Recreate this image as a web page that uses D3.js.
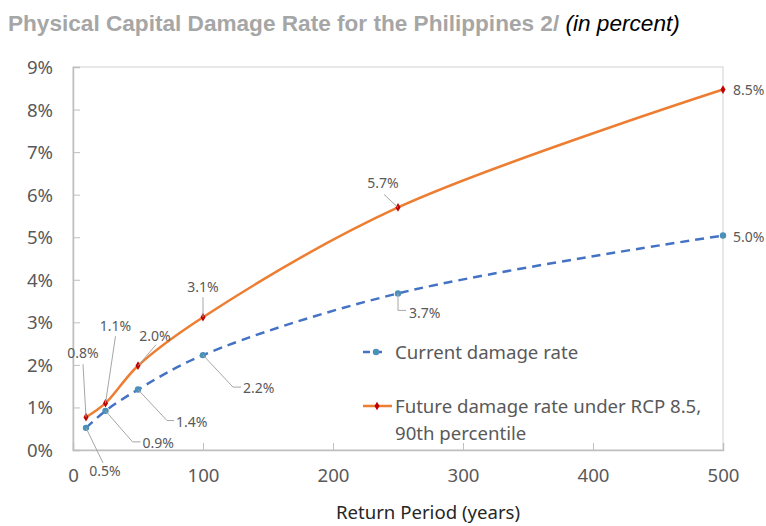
<!DOCTYPE html>
<html><head><meta charset="utf-8">
<script src="https://cdn.jsdelivr.net/npm/d3@7"></script>
<style>body{margin:0;background:#fff}svg{display:block}</style>
</head><body>
<svg id="c" width="766" height="526"></svg>
<script>
const returnPeriods = [10, 25, 50, 100, 250, 500];
const currentRate = [0.52, 0.92, 1.42, 2.23, 3.68, 5.04];
const futureRate = [0.77, 1.10, 1.98, 3.12, 5.70, 8.47];
const currentLabels = ["0.5%", "0.9%", "1.4%", "2.2%", "3.7%", "5.0%"];
const futureLabels = ["0.8%", "1.1%", "2.0%", "3.1%", "5.7%", "8.5%"];
const xTicks = [0, 100, 200, 300, 400, 500];
const yTicks = [0, 1, 2, 3, 4, 5, 6, 7, 8, 9];
const seriesNames = ["Current damage rate", "Future damage rate under RCP 8.5,", "90th percentile"];
const titleMain = "Physical Capital Damage Rate for the Philippines 2/ ";
const titleUnit = "(in percent)";
const xTitle = "Return Period (years)";

// label layout: text offset, anchor, leader points (relative to data point)
const futureLayout = [
  {t:[-3,-64],a:"middle",l:[[-3,-53]]},
  {t:[10,-77],a:"middle",l:[[10,-67]]},
  {t:[17,-30],a:"middle",l:[[18,-21]]},
  {t:[0,-30],a:"middle",l:[[0,-20]]},
  {t:[-15,-24],a:"middle",l:[[-14,-13]]},
  {t:[10,1],a:"start",l:[]}
];
const currentLayout = [
  {t:[19,43],a:"middle",l:[[17,35]]},
  {t:[37,32],a:"start",l:[[27,31],[35,31]]},
  {t:[38,33],a:"start",l:[[29,31],[36,31]]},
  {t:[40,33],a:"start",l:[[30,32],[38,32]]},
  {t:[11,20],a:"start",l:[[0,17],[8,17]]},
  {t:[10,2],a:"start",l:[]}
];

const svg = d3.select("#c");
const L = 73, R = 723, T = 67, B = 450;
const x = d3.scaleLinear().domain([0, 500]).range([L, R]);
const y = d3.scaleLinear().domain([0, 9]).range([B, T]);
const font = "'Noto Sans', 'Open Sans', sans-serif";
const grey = "#595959";

// title
const tt = svg.append("text").attr("x", 8).attr("y", 31)
  .style("font-family", "'Liberation Sans', Arial, sans-serif").style("font-size", "22.6px");
tt.append("tspan").text(titleMain).attr("fill", "#a6a6a6").attr("font-weight", "bold");
tt.append("tspan").text(titleUnit).attr("fill", "#000").attr("font-style", "italic");

// frame
svg.append("rect").attr("x", L).attr("y", T).attr("width", R - L).attr("height", B - T)
  .attr("fill", "none").attr("stroke", "#d0d0d0").attr("stroke-width", 1);

// axes
const yAxis = d3.axisLeft(y).tickValues(yTicks).tickSize(-7).tickPadding(20).tickFormat(d => d + "%");
const gy = svg.append("g").attr("transform", `translate(${L},0)`).call(yAxis);
const xAxis = d3.axisBottom(x).tickValues(xTicks).tickSize(-7).tickPadding(19).tickFormat(d3.format("d"));
const gx = svg.append("g").attr("transform", `translate(0,${B})`).call(xAxis);
[gx, gy].forEach(g => {
  g.select(".domain").attr("stroke", "#bfbfbf").attr("stroke-width", 1.5);
  g.selectAll(".tick line").attr("stroke", "#bfbfbf").attr("stroke-width", 1);
  g.selectAll(".tick text").attr("fill", grey).style("font-family", font).style("font-size", "18.6px");
});
gy.selectAll(".tick text").attr("dy", "0.35em");
gx.selectAll(".tick text").attr("dy", "0.71em");
gx.selectAll(".tick").filter(d => d === 0 || d === 500).select("line").remove();
gy.selectAll(".tick").filter(d => d === 0).select("line").remove();

svg.append("text").attr("x", 428).attr("y", 519).attr("text-anchor", "middle")
  .attr("fill", "#262626").style("font-family", font).style("font-size", "18.6px").text(xTitle);

const line = d3.line().x(d => x(d[0])).y(d => y(d[1])).curve(d3.curveCatmullRom.alpha(0.5));
const cur = returnPeriods.map((r, i) => [r, currentRate[i]]);
const fut = returnPeriods.map((r, i) => [r, futureRate[i]]);

svg.append("path").attr("d", line(cur)).attr("fill", "none").attr("stroke", "#4472C4")
  .attr("stroke-width", 2.5).attr("stroke-dasharray", "9,6");
svg.append("path").attr("d", line(fut)).attr("fill", "none").attr("stroke", "#ED7D31")
  .attr("stroke-width", 2.5);

const diamond = d3.symbol().type(d3.symbolDiamond).size(22);
svg.selectAll(".cm").data(cur).join("circle").attr("cx", d => x(d[0])).attr("cy", d => y(d[1]))
  .attr("r", 3.2).attr("fill", "#4a90b8");
svg.selectAll(".fm").data(fut).join("path").attr("d", diamond)
  .attr("transform", d => `translate(${x(d[0])},${y(d[1])})`).attr("fill", "#c00000");

function labels(data, texts, layout) {
  data.forEach((d, i) => {
    const px = x(d[0]), py = y(d[1]), lay = layout[i];
    if (lay.l.length) {
      const pts = [[px, py]].concat(lay.l.map(p => [px + p[0], py + p[1]]));
      svg.append("path").attr("d", d3.line()(pts)).attr("fill", "none")
        .attr("stroke", "#a6a6a6").attr("stroke-width", 1);
    }
    svg.append("text").attr("x", px + lay.t[0]).attr("y", py + lay.t[1]).attr("dy", "0.35em")
      .attr("text-anchor", lay.a).attr("fill", grey).style("font-family", font).style("font-size", "14px")
      .text(texts[i]);
  });
}
labels(cur, currentLabels, currentLayout);
labels(fut, futureLabels, futureLayout);

// legend
const lg = svg.append("g");
lg.append("line").attr("x1", 363).attr("x2", 387).attr("y1", 352).attr("y2", 352)
  .attr("stroke", "#4472C4").attr("stroke-width", 2.5).attr("stroke-dasharray", "7,5");
lg.append("circle").attr("cx", 376).attr("cy", 352).attr("r", 3.2).attr("fill", "#4a90b8");
lg.append("line").attr("x1", 363).attr("x2", 392).attr("y1", 406).attr("y2", 406)
  .attr("stroke", "#ED7D31").attr("stroke-width", 2.5);
lg.append("path").attr("d", diamond).attr("transform", "translate(377,406)").attr("fill", "#c00000");
[[352, 0], [406, 1], [433, 2]].forEach(([yy, i]) => {
  lg.append("text").attr("x", 395).attr("y", yy).attr("dy", "0.35em").attr("fill", grey)
    .style("font-family", font).style("font-size", "18.6px").text(seriesNames[i]);
});
</script>
</body></html>
